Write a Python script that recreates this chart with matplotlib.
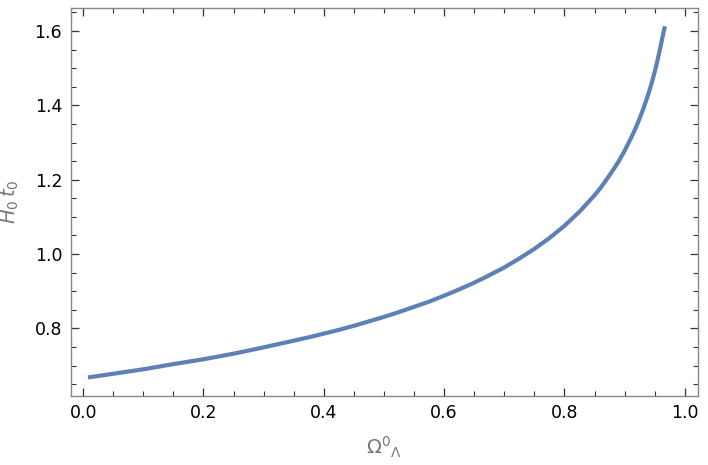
import matplotlib
matplotlib.use("Agg")
import matplotlib.pyplot as plt
from matplotlib.ticker import MultipleLocator
import numpy as np

# values
omega_lambda = [0.008, 0.05, 0.10, 0.15, 0.20, 0.25, 0.30, 0.35, 0.375, 0.40,
                0.425, 0.45, 0.475, 0.50, 0.525, 0.55, 0.575, 0.60, 0.625, 0.65,
                0.675, 0.70, 0.725, 0.75, 0.775, 0.80, 0.825, 0.85, 0.86, 0.875,
                0.89, 0.90, 0.91, 0.915, 0.92, 0.925, 0.93, 0.935, 0.94, 0.945,
                0.95, 0.955, 0.96, 0.963, 0.967]
h0t0 = [0.668, 0.678, 0.690, 0.704, 0.717, 0.732, 0.749, 0.767, 0.776, 0.786,
        0.796, 0.807, 0.819, 0.831, 0.844, 0.858, 0.872, 0.888, 0.905, 0.923,
        0.943, 0.964, 0.988, 1.014, 1.043, 1.076, 1.114, 1.158, 1.178, 1.212,
        1.249, 1.278, 1.310, 1.327, 1.345, 1.365, 1.386, 1.409, 1.433, 1.460,
        1.490, 1.523, 1.560, 1.584, 1.613]

line_col = "#5E81B5"
frame_col = "#888888"

fig = plt.figure(figsize=(7.08, 4.65), dpi=100)
ax = fig.add_axes([70.5/708, 1-395.7/465, (698-70.5)/708, (395.7-8)/465])

ax.plot(omega_lambda, h0t0, color=line_col, lw=3.0,
        solid_capstyle="butt", solid_joinstyle="round")

ax.set_xlim(-0.021, 1.022)
ax.set_ylim(0.619, 1.662)
ax.xaxis.set_major_locator(MultipleLocator(0.2))
ax.xaxis.set_minor_locator(MultipleLocator(0.05))
ax.yaxis.set_major_locator(MultipleLocator(0.2))
ax.yaxis.set_minor_locator(MultipleLocator(0.05))

for s in ax.spines.values():
    s.set_color(frame_col)
    s.set_linewidth(1.0)
ax.tick_params(which="both", direction="in", top=True, right=True,
               color="#333333", labelsize=12.5, pad=6)
ax.tick_params(which="major", length=6, width=0.9)
ax.tick_params(which="minor", length=3.5, width=0.8)
ax.tick_params(axis="both", colors="#333333", labelcolor="black")

ax.set_xlabel(r"$\mathregular{\Omega^0{}_\Lambda}$", color="#777777", fontsize=14, labelpad=9)
ax.set_ylabel(r"$H_0\,t_0$", color="#777777", fontsize=14, labelpad=10)

fig.savefig("out.png", dpi=100)
